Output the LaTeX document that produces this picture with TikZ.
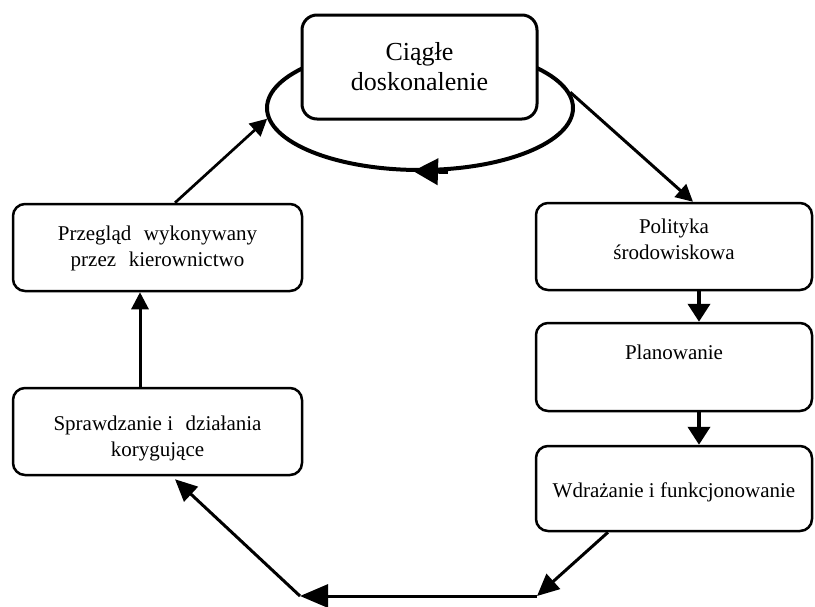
\documentclass[tikz,border=0pt]{standalone}
\usepackage{fontspec}
\setmainfont{Liberation Serif}
\usetikzlibrary{arrows.meta,shapes.geometric}
\begin{document}
\begin{tikzpicture}[x=1pt,y=-1pt,
  box/.style={draw, line width=2.5pt, rounded corners=12pt, fill=white, inner sep=0pt},
  lbl/.style={font=\fontsize{21pt}{26pt}\selectfont, align=center, inner sep=0pt},
  conn/.style={line width=3pt},
  thin/.style={line width=2.7pt},
  headS/.style={-{Triangle[length=17pt,width=17pt]}},
  headM/.style={-{Triangle[length=18pt,width=22pt]}},
  headL/.style={-{Triangle[length=28pt,width=23pt]}}
]
\useasboundingbox (0,0) rectangle (815,606);
% ellipse with top box
\node[draw, ellipse, line width=4pt, minimum width=306pt, minimum height=124pt, inner sep=0pt] (ell) at (420,108) {};
\node[box, line width=3pt, rounded corners=15pt, minimum width=235pt, minimum height=104pt] (top) at (419.5,67) {};
\node[align=center, inner sep=0pt, font=\fontsize{26pt}{30pt}\selectfont] (toptxt) at (419.5,67) {Ciągłe\\doskonalenie};
\draw[line width=4pt, -{Triangle[length=25pt,width=26pt]}] ([xshift=28pt]ell.south) -- ([xshift=-7pt,yshift=1pt]ell.south);
% right column
\node[box, minimum width=276pt, minimum height=87pt] (pol) at (674,246.5) {};
\node[lbl] (poltxt) at (674,239) {Polityka\\środowiskowa};
\node[box, minimum width=276pt, minimum height=88pt] (plan) at (674,367) {};
\node[lbl] (plantxt) at (674,352) {Planowanie};
\node[box, minimum width=276pt, minimum height=85pt] (wdr) at (674,488.5) {};
\node[lbl] (wdrtxt) at (674,492) {Wdrażanie i funkcjonowanie};
% left column
\node[box, minimum width=289pt, minimum height=87pt] (prz) at (157.5,247.5) {};
\node[lbl] (prztxt) at (157.5,248.5) {Przegląd\hspace{0.35em} wykonywany\\przez\hspace{0.35em} kierownictwo};
\node[box, minimum width=289pt, minimum height=87pt] (spr) at (157.5,431.5) {};
\node[lbl] (sprtxt) at (157.5,438.5) {Sprawdzanie i\hspace{0.35em} działania\\korygujące};
% bottom corners
\coordinate (c1) at (537,596);
\coordinate (c2) at (300,596);
% connectors
\draw[conn, headS] (ell.6) -- ([xshift=19pt]pol.north);
\draw[line width=4pt, headM] ([xshift=25pt]pol.south) -- ([xshift=25pt]plan.north);
\draw[line width=4pt, headM] ([xshift=25pt]plan.south) -- ([xshift=25pt]wdr.north);
\draw[conn, -{Triangle[length=22pt,width=20pt]}] ([xshift=-66pt]wdr.south) -- (c1);
\draw[conn, headL] (c1) -- (c2);
\draw[conn, -{Triangle[length=22pt,width=20pt]}] (c2) -- ([xshift=17.5pt,yshift=-3pt]spr.south);
\draw[conn, headS] ([xshift=-17.5pt]spr.north) -- ([xshift=-17.5pt]prz.south);
\draw[thin, headS] ([xshift=17.5pt]prz.north) -- (ell.184);
\end{tikzpicture}
\end{document}
